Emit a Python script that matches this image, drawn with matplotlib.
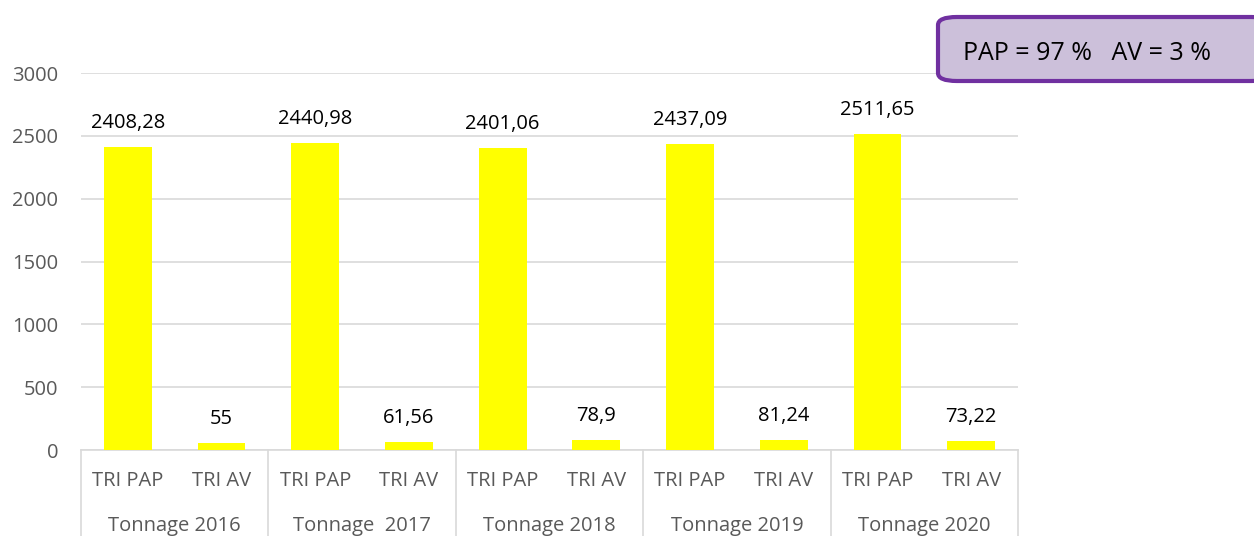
import matplotlib
matplotlib.use("Agg")
import matplotlib.pyplot as plt
from matplotlib.patches import FancyBboxPatch

plt.rcParams["font.family"] = ["Open Sans", "DejaVu Sans"]

YEARS = ["Tonnage 2016", "Tonnage  2017", "Tonnage 2018", "Tonnage 2019", "Tonnage 2020"]
SUBCATS = ["TRI PAP", "TRI AV"]
PAP = [2408.28, 2440.98, 2401.06, 2437.09, 2511.65]
AV = [55, 61.56, 78.9, 81.24, 73.22]
PAP_LBL = ["2408,28", "2440,98", "2401,06", "2437,09", "2511,65"]
AV_LBL = ["55", "61,56", "78,9", "81,24", "73,22"]
YTICKS = [0, 500, 1000, 1500, 2000, 2500, 3000]
NOTE = "PAP = 97 %   AV = 3 %"

W, H = 1254, 536
FS = 14.5
fig = plt.figure(figsize=(W / 100, H / 100), dpi=100)
ax = fig.add_axes([81 / W, 1 - 450 / H, (1018 - 81) / W, (450 - 73) / H])

vals, lbls = [], []
for i in range(len(YEARS)):
    vals += [PAP[i], AV[i]]
    lbls += [PAP_LBL[i], AV_LBL[i]]
xs = list(range(len(vals)))
ax.bar(xs, vals, width=0.51, color="#ffff00", zorder=3)
for x, v, l in zip(xs, vals, lbls):
    ax.annotate(l, (x, v), xytext=(0, 10), textcoords="offset points",
                ha="center", va="bottom", fontsize=FS, color="black")

ax.set_xlim(-0.5, len(vals) - 0.5)
ax.set_ylim(0, 3000)
ax.set_yticks(YTICKS)
ax.set_yticklabels([str(t) for t in YTICKS], color="#595959", fontsize=FS)
ax.tick_params(axis="y", length=0, pad=16.5)
ax.set_xticks([])
ax.grid(axis="y", color="#d9d9d9", lw=1.2, zorder=0)
for s in ["top", "right", "left"]:
    ax.spines[s].set_visible(False)
ax.spines["bottom"].set_color("#d9d9d9")
ax.spines["bottom"].set_linewidth(1.2)

# two-level category axis
tr = ax.get_xaxis_transform()
for b in range(len(YEARS) + 1):
    ax.plot([b * 2 - 0.5] * 2, [0, -0.25], transform=tr, color="#d9d9d9",
            lw=1.2, clip_on=False)
for x in xs:
    ax.text(x, -31 / 377, SUBCATS[x % 2], transform=tr, ha="center", va="center",
            fontsize=FS, color="#595959")
for i, y in enumerate(YEARS):
    ax.text(2 * i + 0.5, -76 / 377, y, transform=tr, ha="center", va="center",
            fontsize=FS, color="#595959")

box = FancyBboxPatch((938 / W, 1 - 81 / H), (1270 - 938) / W, (81 - 17) / H,
                     boxstyle="round,pad=0,rounding_size=0.015",
                     transform=fig.transFigure, facecolor="#ccc0da",
                     edgecolor="#7030a0", lw=3, zorder=10)
fig.patches.append(box)
fig.text(963 / W, 1 - 54 / H, NOTE, ha="left", va="center", fontsize=18,
         color="black", zorder=11)

fig.savefig("out.png", dpi=100)
